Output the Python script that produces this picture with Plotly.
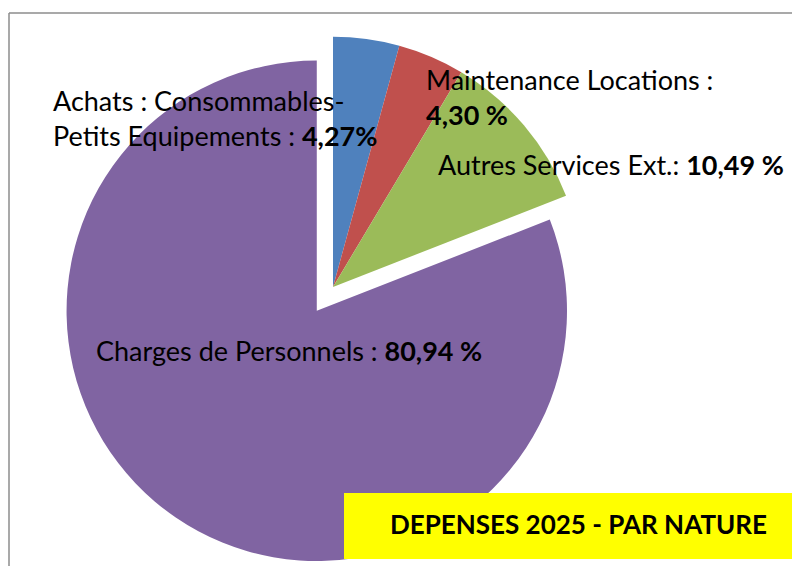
import plotly.graph_objects as go

# data
categories = ["Achats : Consommables-Petits Equipements", "Maintenance Locations",
              "Autres Services Ext.", "Charges de Personnels"]
values = [4.27, 4.30, 10.49, 80.94]
value_labels = ["4,27%", "4,30 %", "10,49 %", "80,94 %"]
colors = ["#4F81BD", "#C0504D", "#9BBB59", "#8064A2"]
pulls = [0, 0, 0, 0.115]

# the page body keeps an 8px margin, so the figure is drawn 8px smaller
OFF = 8
W, H = 800 - OFF, 566 - OFF
FONT = "Lato, Carlito, Calibri, sans-serif"
FS = 27


def px_x(x):
    return (x - OFF) / W


def px_y(y):
    return 1 - (y - OFF) / H


fig = go.Figure(go.Pie(
    labels=categories,
    values=values,
    marker=dict(colors=colors, line=dict(width=0)),
    pull=pulls,
    sort=False,
    direction="clockwise",
    rotation=0,
    textinfo="none",
    hoverinfo="label+percent",
    domain=dict(x=[0, 2 * (333 - OFF) / W], y=[0, 1]),
))

# slice labels (placed like the original data labels)
label_texts = [
    f"Achats : Consommables-<br>Petits Equipements : <b>{value_labels[0]}</b>",
    f"Maintenance Locations :<br><b>{value_labels[1]}</b>",
    f"Autres Services Ext.: <b>{value_labels[2]}</b>",
    f"Charges de Personnels : <b>{value_labels[3]}</b>",
]
label_pos = [(51, 118), (424, 97.5), (436, 164.5), (94, 350.5)]

annotations = []
for txt, (x, y) in zip(label_texts, label_pos):
    annotations.append(dict(
        text=txt, x=px_x(x), y=px_y(y), xref="paper", yref="paper",
        xanchor="left", yanchor="middle", align="left", showarrow=False,
        font=dict(family=FONT, size=FS, color="#000000"),
    ))

annotations.append(dict(
    text="<b>DEPENSES 2025 - PAR NATURE</b>", x=px_x(578), y=px_y(524),
    xref="paper", yref="paper", xanchor="center", yanchor="middle",
    showarrow=False, font=dict(family=FONT, size=26, color="#000000"),
))

frame = dict(color="#8C8C8C", width=1.5)
shapes = [
    # chart frame (only top and left edges are inside the picture)
    dict(type="line", xref="paper", yref="paper",
         x0=px_x(9), x1=1, y0=px_y(13), y1=px_y(13), line=frame, layer="above"),
    dict(type="line", xref="paper", yref="paper",
         x0=px_x(9), x1=px_x(9), y0=0, y1=px_y(13), line=frame, layer="above"),
    # yellow title box
    dict(type="rect", xref="paper", yref="paper",
         x0=px_x(344), x1=1.0, y0=px_y(559), y1=px_y(493),
         line=dict(width=0), fillcolor="#FFFF00", layer="above"),
]

fig.update_layout(
    width=W, height=H,
    margin=dict(l=0, r=0, t=0, b=0),
    paper_bgcolor="white",
    showlegend=False,
    annotations=annotations,
    shapes=shapes,
)

fig.write_html("out.html")
